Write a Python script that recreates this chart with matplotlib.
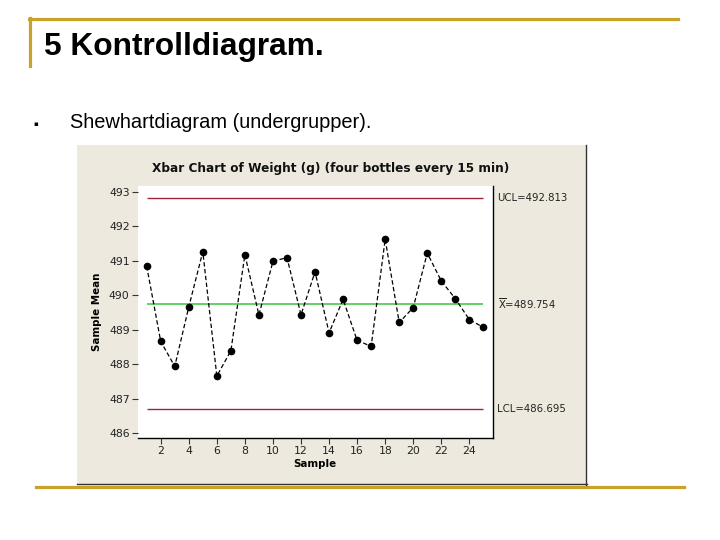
import matplotlib
matplotlib.use("Agg")
import matplotlib.pyplot as plt
from matplotlib.patches import Rectangle
from matplotlib.lines import Line2D

# ---- data ----
samples = list(range(1, 26))
means = [490.84, 488.66, 487.94, 489.66, 491.26, 487.66, 488.39, 491.17, 489.43, 490.98,
         491.09, 489.43, 490.68, 488.91, 489.88, 488.69, 488.52, 491.62, 489.21, 489.64,
         491.22, 490.41, 489.90, 489.29, 489.07]
ucl = 492.813
center = 489.754
lcl = 486.695
yticks = [486, 487, 488, 489, 490, 491, 492, 493]
xticks = [2, 4, 6, 8, 10, 12, 14, 16, 18, 20, 22, 24]

slide_title = "5 Kontrolldiagram."
bullet_text = "Shewhartdiagram (undergrupper)."
chart_title = "Xbar Chart of Weight (g) (four bottles every 15 min)"

W, H = 720, 540
fig = plt.figure(figsize=(W / 100, H / 100), dpi=100)
fig.patch.set_facecolor("white")

def fx(px):
    return px / W

def fy(py):
    return 1 - py / H

gold = "#C9A22A"
beige = "#EDE9DF"

# slide decorations
fig.add_artist(Line2D([fx(29), fx(678)], [fy(18.5), fy(18.5)], color=gold, lw=2.3))
fig.add_artist(Line2D([fx(30), fx(30)], [fy(17.5), fy(66)], color=gold, lw=2.3))
fig.add_artist(Line2D([fx(36), fx(684)], [fy(486.5), fy(486.5)], color=gold, lw=2.3))

fig.text(fx(44), fy(47), slide_title, family="Liberation Sans", fontsize=22.8,
         fontweight="bold", va="center", ha="left", color="black")
fig.text(fx(33), fy(123.5), "\u25aa", family="DejaVu Sans", fontsize=5,
         va="center", ha="left", color="black")
fig.text(fx(70), fy(123), bullet_text, family="Liberation Sans", fontsize=14.4,
         va="center", ha="left", color="black")

# embedded chart background
fig.add_artist(Rectangle((fx(77), fy(484)), fx(587) - fx(77), fy(145) - fy(484),
                         transform=fig.transFigure, facecolor=beige, edgecolor="none", zorder=0))
fig.add_artist(Line2D([fx(586), fx(586)], [fy(145), fy(484.5)], color="#333333", lw=1.0))
fig.add_artist(Line2D([fx(77), fx(586.5)], [fy(484), fy(484)], color="#333333", lw=1.0))

ax_left, ax_right, ax_top, ax_bottom = 138, 492.5, 185.7, 437.5
ax = fig.add_axes([fx(ax_left), fy(ax_bottom), (ax_right - ax_left) / W, (ax_bottom - ax_top) / H])
ax.set_facecolor("white")
ax.set_xlim(0.38, 25.65)
ax.set_ylim(485.88, 493.17)

for s in ["left", "top"]:
    ax.spines[s].set_visible(False)
for s in ["right", "bottom"]:
    ax.spines[s].set_color("black")
    ax.spines[s].set_linewidth(1.0)

ax.hlines([ucl, lcl], samples[0], samples[-1], colors="#A2243A", lw=1.0, zorder=2)
ax.hlines([center], samples[0], samples[-1], colors="#4CC84C", lw=1.2, zorder=2)
ax.plot(samples, means, color="black", lw=0.9, ls=(0, (3.5, 2.0)), marker="o",
        markersize=4.5, markerfacecolor="black", markeredgecolor="black", zorder=3)

ax.set_yticks(yticks)
ax.set_xticks(xticks)
ax.tick_params(axis="y", direction="out", length=4, width=0.8, color="#333333",
               labelsize=7.8, pad=2, labelcolor="#222222")
ax.tick_params(axis="x", direction="out", length=4, width=0.8, color="#333333",
               labelsize=7.8, pad=2, labelcolor="#222222")
ax.tick_params(axis="y", left=True, right=False)
for lab in ax.get_xticklabels() + ax.get_yticklabels():
    lab.set_family("DejaVu Sans")

ax.set_ylabel("Sample Mean", fontsize=7.4, fontweight="bold", family="DejaVu Sans", labelpad=5)
ax.set_xlabel("Sample", fontsize=7.4, fontweight="bold", family="DejaVu Sans", labelpad=2)

fig.text(fx(331), fy(169), chart_title, fontsize=8.7, fontweight="bold",
         family="DejaVu Sans", ha="center", va="center", color="#111111")

plt.rcParams["mathtext.fontset"] = "dejavusans"
lab_x = fx(497.5)
for val, txt in [(ucl, "UCL=492.813"), (center, r"$\overline{\mathrm{X}}$=489.754"), (lcl, "LCL=486.695")]:
    ypix = fig.transFigure.inverted().transform(ax.transData.transform((1, val)))[1]
    fig.text(lab_x, ypix, txt, fontsize=7.3, family="DejaVu Sans", ha="left", va="center",
             color="#222222")

fig.savefig("out.png", dpi=100, facecolor="white")
